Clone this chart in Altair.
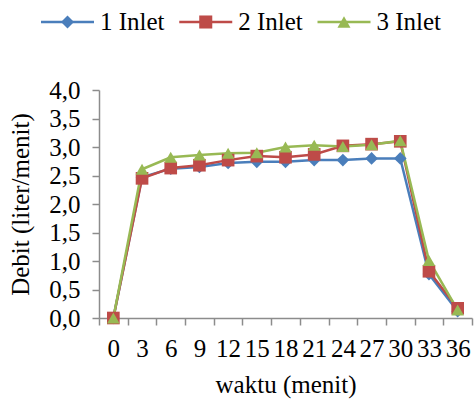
import altair as alt
import pandas as pd

waktu = [0, 3, 6, 9, 12, 15, 18, 21, 24, 27, 30, 33, 36]
series_names = ["1 Inlet", "2 Inlet", "3 Inlet"]
inlet1 = [0.0, 2.47, 2.62, 2.65, 2.72, 2.74, 2.74, 2.77, 2.77, 2.80, 2.80, 0.77, 0.12]
inlet2 = [0.0, 2.45, 2.63, 2.68, 2.77, 2.84, 2.82, 2.87, 3.02, 3.05, 3.10, 0.82, 0.17]
inlet3 = [0.0, 2.61, 2.82, 2.86, 2.89, 2.90, 3.00, 3.03, 3.01, 3.04, 3.11, 1.01, 0.14]
colors = ["#4A7EBB", "#BE4B48", "#98B954"]
shapes = ["diamond", "square", "triangle-up"]

rows = []
for name, vals in zip(series_names, [inlet1, inlet2, inlet3]):
    for t, v in zip(waktu, vals):
        rows.append({"waktu": str(t), "debit": v, "seri": name})
df = pd.DataFrame(rows)
legend_df = pd.DataFrame({"seri": series_names})

FONT = "Times New Roman, Liberation Serif, serif"
FS = 25
order = [str(t) for t in waktu]

color_scale = alt.Scale(domain=series_names, range=colors)
shape_scale = alt.Scale(domain=series_names, range=shapes)

x = alt.X("waktu:N", sort=order,
          scale=alt.Scale(type="band", paddingInner=0, paddingOuter=0),
          axis=alt.Axis(title="waktu (menit)", labelAngle=0, labelOverlap=False,
                        tickBand="extent", tickSize=7, labelPadding=11,
                        titlePadding=11, labelFontSize=FS, titleFontSize=FS,
                        labelFont=FONT, titleFont=FONT, titleFontWeight="normal",
                        labelColor="black", titleColor="black",
                        domainColor="#8c8c8c", tickColor="#8c8c8c",
                        domainWidth=1.5, tickWidth=1.5, grid=False))
y = alt.Y("debit:Q", scale=alt.Scale(domain=[0, 4], nice=False),
          axis=alt.Axis(title="Debit (liter/menit)", values=[0, 0.5, 1, 1.5, 2, 2.5, 3, 3.5, 4],
                        labelExpr="replace(format(datum.value, '.1f'), '.', ',')",
                        tickSize=7, labelPadding=12, titlePadding=15,
                        labelFontSize=FS, titleFontSize=FS,
                        labelFont=FONT, titleFont=FONT, titleFontWeight="normal",
                        labelColor="black", titleColor="black",
                        domainColor="#8c8c8c", tickColor="#8c8c8c",
                        domainWidth=1.5, tickWidth=1.5, grid=False))

lines = alt.Chart(df).mark_line(strokeWidth=2.5).encode(
    x=x, y=y,
    color=alt.Color("seri:N", scale=color_scale, legend=None),
    detail="seri:N",
)

points = alt.Chart(df).mark_point(filled=True, size=160, opacity=1).encode(
    x=x, y=y,
    color=alt.Color("seri:N", scale=color_scale, legend=None),
    shape=alt.Shape("seri:N", scale=shape_scale, legend=None),
)

main = alt.layer(lines, points)

# legend built from a point scale over the series names, drawn above the plot
lx = alt.X("seri:N", sort=series_names,
           scale=alt.Scale(type="point", domain=series_names, range=[-31.5, 245], padding=0),
           axis=None)
ly = alt.value(-68)

leg_line = alt.Chart(legend_df).mark_rule(strokeWidth=2.5, xOffset=-26.5, x2Offset=26.5).encode(
    x=lx, x2="seri:N", y=ly,
    color=alt.Color("seri:N", scale=color_scale, legend=None),
)
leg_pt = alt.Chart(legend_df).mark_point(filled=True, size=170, opacity=1).encode(
    x=lx, y=ly,
    color=alt.Color("seri:N", scale=color_scale, legend=None),
    shape=alt.Shape("seri:N", scale=shape_scale, legend=None),
)
leg_txt = alt.Chart(legend_df).mark_text(align="left", baseline="middle", dx=32.5,
                                         font=FONT, fontSize=FS, color="black").encode(
    x=lx, y=ly, text="seri:N",
)
legend = alt.layer(leg_line, leg_pt, leg_txt)

chart = alt.layer(main, legend).resolve_scale(x="independent").properties(
    width=373, height=228,
    padding={"left": 99, "top": 90, "right": 2, "bottom": 83},
    autosize="none",
).configure_view(stroke=None)

chart.save("out.html", embed_options={"renderer": "svg", "actions": False})
